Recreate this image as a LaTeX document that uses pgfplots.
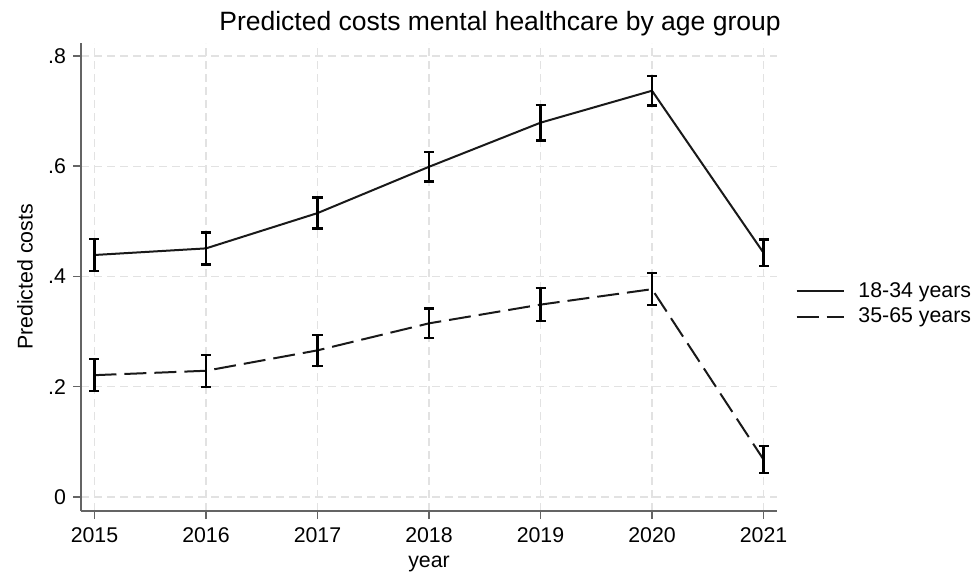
\documentclass[border=0pt]{standalone}
\usepackage{pgfplots}
\usepackage{pgfplotstable}
\pgfplotsset{compat=1.18}
\usepackage{fontspec}
\setmainfont{Liberation Sans}
\definecolor{gridgray}{RGB}{226,226,226}
\definecolor{axgray}{RGB}{100,100,100}
\definecolor{lineblk}{RGB}{25,25,25}

\pgfplotstableread{
x    y     e
2015 0.439 0.029
2016 0.451 0.029
2017 0.515 0.028
2018 0.599 0.027
2019 0.679 0.032
2020 0.737 0.027
2021 0.443 0.024
}\younger
\pgfplotstableread{
x    y     e
2015 0.221 0.029
2016 0.229 0.029
2017 0.266 0.028
2018 0.315 0.027
2019 0.349 0.030
2020 0.377 0.029
2021 0.068 0.025
}\older

\begin{document}
\begin{tikzpicture}
\path[use as bounding box] (0,0) rectangle (487bp,286bp);
\begin{axis}[
  at={(40.5bp,30.5bp)}, anchor=south west,
  scale only axis, width=348bp, height=234bp,
  xmin=2014.879, xmax=2021.121,
  ymin=-0.0254, ymax=0.8236,
  axis x line*=bottom, axis y line*=left,
  axis line style={draw=axgray, line width=0.75bp, -},
  xtick={2015,2016,2017,2018,2019,2020,2021},
  xticklabels={2015,2016,2017,2018,2019,2020,2021},
  xticklabel style={yshift=-1bp},
  ytick={0,0.2,0.4,0.6,0.8},
  yticklabels={0,.2,.4,.6,.8},
  tick align=outside, major tick length=4bp,
  tick style={draw=axgray, line width=0.75bp},
  grid=major,
  major grid style={draw=gridgray, line width=0.6bp, dash pattern=on 4bp off 2.5bp},
  ticklabel style={font=\fontsize{10.7}{12.8}\selectfont, text=black},
  label style={font=\fontsize{10.7}{12.8}\selectfont},
  xlabel={year},
  xlabel style={at={(0.5,-0.1197)}, anchor=base},
  ylabel={Predicted costs},
  ylabel style={at={(-0.0805,0.5)}, anchor=center},
  legend style={at={(1.026,0.4423)}, anchor=west, draw=none, fill=none,
    font=\fontsize{10.7}{12.8}\selectfont, inner sep=0pt, row sep=0bp,
    /tikz/every odd column/.style={column sep=5bp}},
  legend cell align=left,
  legend image code/.code={\draw[#1] (0bp,0bp) -- (23.5bp,0bp);},
  clip=false,
]
\addplot[lineblk, line width=1bp, solid, mark=none,
  error bars/.cd, y dir=both, y explicit,
  error bar style={black, line width=1.2bp, solid},
  error mark options={rotate=90, mark size=2.5bp, line width=1.2bp, black}]
  table[x=x, y=y, y error=e] {\younger};
\addlegendentry{18-34 years}
\addplot[lineblk, line width=1bp, dash pattern=on 11bp off 4bp, mark=none,
  error bars/.cd, y dir=both, y explicit,
  error bar style={black, line width=1.2bp, solid},
  error mark options={rotate=90, mark size=2.5bp, line width=1.2bp, black, solid}]
  table[x=x, y=y, y error=e] {\older};
\addlegendentry{35-65 years}
\end{axis}
\node[anchor=base, font=\fontsize{13.3}{16}\selectfont] at (250bp,270.5bp) {Predicted costs mental healthcare by age group};
\end{tikzpicture}
\end{document}
